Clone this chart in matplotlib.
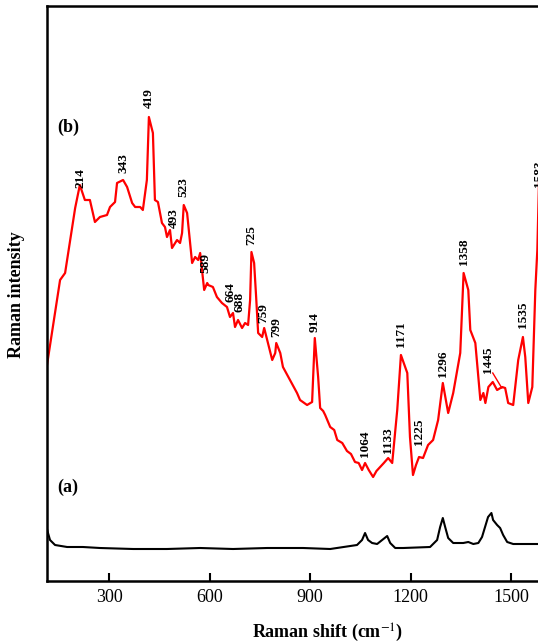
import matplotlib
matplotlib.use("Agg")
import matplotlib.pyplot as plt

plt.rcParams["font.family"] = "Liberation Serif"
plt.rcParams["mathtext.fontset"] = "stix"

# spectrum (b), red: Raman shift (cm-1) and intensity (arb. units)
shift_b = [115, 154, 169, 199, 213, 228, 243, 258, 273, 294, 303, 318, 324, 342, 354,
           369, 378, 393, 401, 413, 419, 431, 437, 446, 458, 467, 473, 482, 488, 503,
           512, 518, 523, 533, 548, 557, 566, 572, 584, 593, 596, 610, 622, 637, 652,
           661, 670, 676, 685, 697, 706, 715, 721, 725, 733, 739, 745, 757, 763, 772,
           787, 796, 799, 811, 819, 840, 861, 870, 891, 906, 914, 924, 930, 939, 945,
           960, 972, 981, 996, 1010, 1022, 1034, 1045, 1055, 1064, 1075, 1088, 1098,
           1109, 1120, 1133, 1145, 1160, 1171, 1190, 1198, 1207, 1216, 1225, 1237, 1252,
           1267, 1282, 1296, 1312, 1327, 1348, 1358, 1372, 1378, 1393, 1408, 1417, 1423,
           1432, 1445, 1458, 1473, 1482, 1491, 1506, 1521, 1535, 1542, 1551, 1563, 1572,
           1578, 1583, 1595]
int_b = [216, 301, 308, 373, 396, 381, 381, 359, 364, 366, 374, 379, 398, 401, 394,
         378, 374, 374, 371, 401, 464, 448, 381, 379, 358, 354, 344, 351, 333, 341,
         338, 348, 376, 368, 318, 324, 321, 328, 291, 298, 296, 294, 284, 278, 274,
         264, 268, 254, 261, 253, 258, 256, 281, 329, 318, 284, 248, 244, 253, 241,
         221, 228, 238, 228, 214, 201, 188, 181, 176, 179, 243, 204, 173, 170, 166,
         154, 151, 141, 138, 130, 127, 119, 118, 111, 118, 111, 104, 110,
         114, 118, 123, 118, 171, 226, 208, 144, 106, 116, 124, 123, 136,
         141, 161, 198, 168, 188, 228, 308, 291, 251, 238, 181, 188, 178,
         194, 199, 191, 194, 193, 178, 176, 221, 244, 224, 178, 194, 291,
         331, 400, 300]

# spectrum (a), black
shift_a = [115, 118, 124, 139, 175, 222, 273, 372, 473, 572, 670, 772, 781, 879, 960,
           1040, 1055, 1064, 1073, 1085, 1100, 1115, 1130, 1139, 1154, 1178, 1258, 1279,
           1288, 1296, 1303, 1312, 1327, 1357, 1372, 1387, 1402, 1413, 1422, 1431, 1441,
           1446, 1458, 1467, 1476, 1488, 1506, 1536, 1580]
int_a = [52, 48, 41, 36, 34, 34, 33, 32, 32, 33, 32, 33, 33, 33, 32,
         36, 41, 48, 41, 38, 37, 41, 45, 38, 33, 33, 34, 41,
         54, 63, 54, 43, 38, 38, 39, 37, 38, 44, 54, 64, 68,
         61, 56, 53, 46, 39, 37, 37, 37]

# peak labels: text, x, y of label base
peak_labels = ["214", "343", "419", "493", "523", "589", "664", "688", "725", "759",
               "799", "914", "1064", "1133", "1171", "1225", "1296", "1358", "1445",
               "1535", "1583"]
label_x = [214, 343, 419, 493, 523, 589, 664, 688, 725, 759,
           799, 914, 1064, 1133, 1171, 1225, 1296, 1358, 1432, 1535, 1583]
label_y = [393, 408, 473, 353, 384, 308, 279, 269, 336, 258,
           244, 249, 124, 128, 234, 136, 204, 316, 208, 253, 394]

fig = plt.figure(figsize=(5.38, 6.44), dpi=100)
ax = fig.add_axes([47 / 538, 1 - 581 / 644, 1 - 47 / 538, 575 / 644])

ax.plot(shift_b, int_b, color="#ff0000", linewidth=1.6)
ax.plot(shift_a, int_a, color="black", linewidth=1.5)

for txt, x, y in zip(peak_labels, label_x, label_y):
    ax.text(x, y, txt, rotation=90, ha="center", va="bottom", fontsize=9.5,
            fontweight="bold", clip_on=False)
# small leader for 1445
ax.plot([1445, 1472], [208, 193], color="#ff0000", linewidth=1.0)

ax.text(178, 454, "(b)", fontsize=13, fontweight="bold", ha="center", va="center")
ax.text(178, 94, "(a)", fontsize=13, fontweight="bold", ha="center", va="center")

ax.set_xlim(115, 1580)
ax.set_ylim(0, 575)
ax.set_xticks([300, 600, 900, 1200, 1500])
ax.set_yticks([])
ax.tick_params(axis="x", direction="in", length=6, width=1.5, labelsize=13, pad=6)
for s in ["left", "top", "bottom"]:
    ax.spines[s].set_linewidth(1.8)
ax.spines["right"].set_visible(False)

fig.text(328 / 538, 1 - 633 / 644, "Raman shift (cm$^{-1}$)", ha="center", va="center",
         fontsize=13, fontweight="bold")
fig.text(17 / 538, 1 - 295 / 644, "Raman intensity", rotation=90, ha="center",
         va="center", fontsize=13, fontweight="bold")

fig.savefig("out.png", dpi=100)
